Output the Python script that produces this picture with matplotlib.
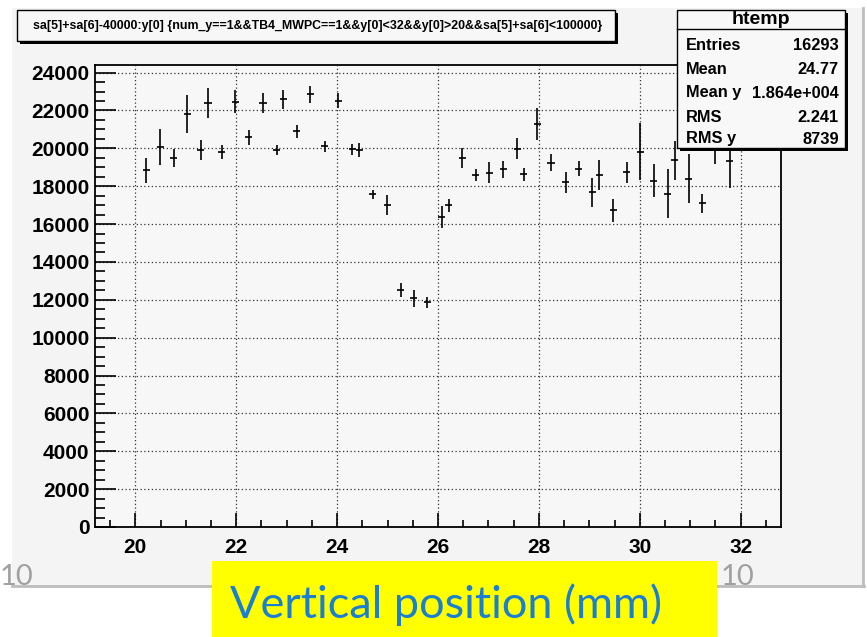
import matplotlib
matplotlib.use('Agg')
import matplotlib.pyplot as plt
from matplotlib.patches import Rectangle
from matplotlib.lines import Line2D
from matplotlib.ticker import MultipleLocator

# profile points
pos_mm = [20.22, 20.49, 20.76, 21.03, 21.30, 21.44, 21.71, 21.98, 22.25, 22.53,
          22.80, 22.93, 23.20, 23.47, 23.75, 24.02, 24.30, 24.44, 24.71, 24.99,
          25.26, 25.52, 25.79, 26.07, 26.21, 26.48, 26.75, 27.02, 27.29, 27.57,
          27.70, 27.97, 28.24, 28.53, 28.79, 29.06, 29.20, 29.47, 29.74, 30.01,
          30.28, 30.55, 30.69, 30.97, 31.24, 31.50, 31.78]
signal = [18840, 20060, 19490, 21810, 19910, 22390, 19800, 22460, 20590, 22390,
          19890, 22580, 20900, 22860, 20100, 22510, 19940, 19910, 17580, 17000,
          12520, 12070, 11860, 16370, 16980, 19470, 18610, 18720, 18890, 19980,
          18630, 21290, 19250, 18200, 18920, 17680, 18590, 16720, 18730, 19830,
          18290, 17610, 19380, 18400, 17100, 19900, 19310]
signal_err = [670, 940, 470, 1020, 540, 780, 350, 600, 390, 540,
              260, 480, 330, 450, 280, 400, 310, 370, 240, 510,
              380, 450, 270, 580, 320, 530, 310, 540, 450, 540,
              350, 850, 460, 540, 390, 760, 810, 590, 540, 1510,
              870, 1310, 1030, 1300, 510, 750, 1400]
bin_half = 0.07

title_txt = "sa[5]+sa[6]-40000:y[0] {num_y==1&&TB4_MWPC==1&&y[0]<32&&y[0]>20&&sa[5]+sa[6]<100000}"
stat_names = ["Entries", "Mean", "Mean y", "RMS", "RMS y"]
stat_vals = ["16293", "24.77", "1.864e+004", "2.241", "8739"]

W, H = 867, 637
fig = plt.figure(figsize=(W / 100, H / 100), dpi=100)
fig.patch.set_facecolor('white')


def px(x, y):
    return x / W, 1 - y / H


def box(x0, y0, x1, y1, **kw):
    r = Rectangle(px(x0, y1), (x1 - x0) / W, (y1 - y0) / H,
                  transform=fig.transFigure, **kw)
    fig.add_artist(r)
    return r


# ROOT canvas
box(12, 8, 863, 586, facecolor='#f4f4f4', edgecolor='none', zorder=-5)
fig.add_artist(Line2D([12 / W, 864 / W], [1 - 586 / H] * 2, transform=fig.transFigure,
                      color='#bdbdbd', lw=2, zorder=-4))
fig.add_artist(Line2D([863 / W] * 2, [1 - 586 / H, 1 - 8 / H], transform=fig.transFigure,
                      color='#bdbdbd', lw=2, zorder=-4))

ax = fig.add_axes([95 / W, 1 - 527 / H, (781 - 95) / W, (527 - 65) / H])
ax.set_facecolor('#f7f7f7')
ax.errorbar(pos_mm, signal, yerr=signal_err, xerr=bin_half, fmt='none',
            ecolor='black', elinewidth=1.2, capsize=0)
ax.set_xlim(19.2, 32.8)
ax.set_ylim(0, 24400)
ax.xaxis.set_major_locator(MultipleLocator(2))
ax.xaxis.set_minor_locator(MultipleLocator(0.5))
ax.yaxis.set_major_locator(MultipleLocator(2000))
ax.yaxis.set_minor_locator(MultipleLocator(500))
ax.grid(True, which='major', color='#333333', linestyle=(0, (1, 2)), lw=0.9)
ax.tick_params(axis='y', which='major', direction='in', length=15, width=1.2, pad=4)
ax.tick_params(axis='y', which='minor', direction='in', length=7, width=1.2)
ax.tick_params(axis='x', which='major', direction='in', length=10, width=1.2, pad=8)
ax.tick_params(axis='x', which='minor', direction='in', length=5, width=1.2)
for lab in ax.get_xticklabels() + ax.get_yticklabels():
    lab.set_fontfamily('Liberation Sans')
    lab.set_fontweight('bold')
    lab.set_fontsize(15)
for s in ax.spines.values():
    s.set_linewidth(1.3)

# title box with shadow
box(20, 13, 618, 44, facecolor='black', edgecolor='none', zorder=5)
box(17, 10, 615, 41, facecolor='#f7f7f7', edgecolor='black', lw=1, zorder=6)
fig.text(*px(318, 26), title_txt, ha='center', va='center', fontsize=8.9,
         fontweight='bold', family='Liberation Sans', zorder=7)

# stats box
box(680, 13, 848, 151, facecolor='black', edgecolor='none', zorder=5)
box(677, 10, 845, 148, facecolor='#f8f8f8', edgecolor='black', lw=1, zorder=6)
fig.add_artist(Line2D([677 / W, 845 / W], [1 - 29 / H] * 2, transform=fig.transFigure,
                      color='black', lw=1, zorder=7))
fig.text(*px(761, 20), "htemp", ha='center', va='center', fontsize=14,
         fontweight='bold', family='Liberation Sans', zorder=7)
rows_y = [46, 69, 93, 117, 139]
for name, val, ry in zip(stat_names, stat_vals, rows_y):
    fig.text(*px(686, ry), name, ha='left', va='center', fontsize=11.8,
             fontweight='bold', family='Liberation Sans', zorder=7)
    fig.text(*px(839, ry), val, ha='right', va='center', fontsize=11.8,
             fontweight='bold', family='Liberation Sans', zorder=7)

# slide leftovers
fig.text(*px(0, 585), "10", ha='left', va='baseline', fontsize=21,
         color='#a0a0a0', family='Lato', zorder=7)
fig.text(*px(721, 585), "10", ha='left', va='baseline', fontsize=21,
         color='#a0a0a0', family='Lato', zorder=7)

box(212, 561, 717, 640, facecolor='#ffff00', edgecolor='none', zorder=8)
fig.text(*px(446, 605), "Vertical position (mm)", ha='center', va='center',
         fontsize=32.5, color='#1a7fd0', family='Lato', zorder=9)

fig.savefig('out.png', dpi=100)
